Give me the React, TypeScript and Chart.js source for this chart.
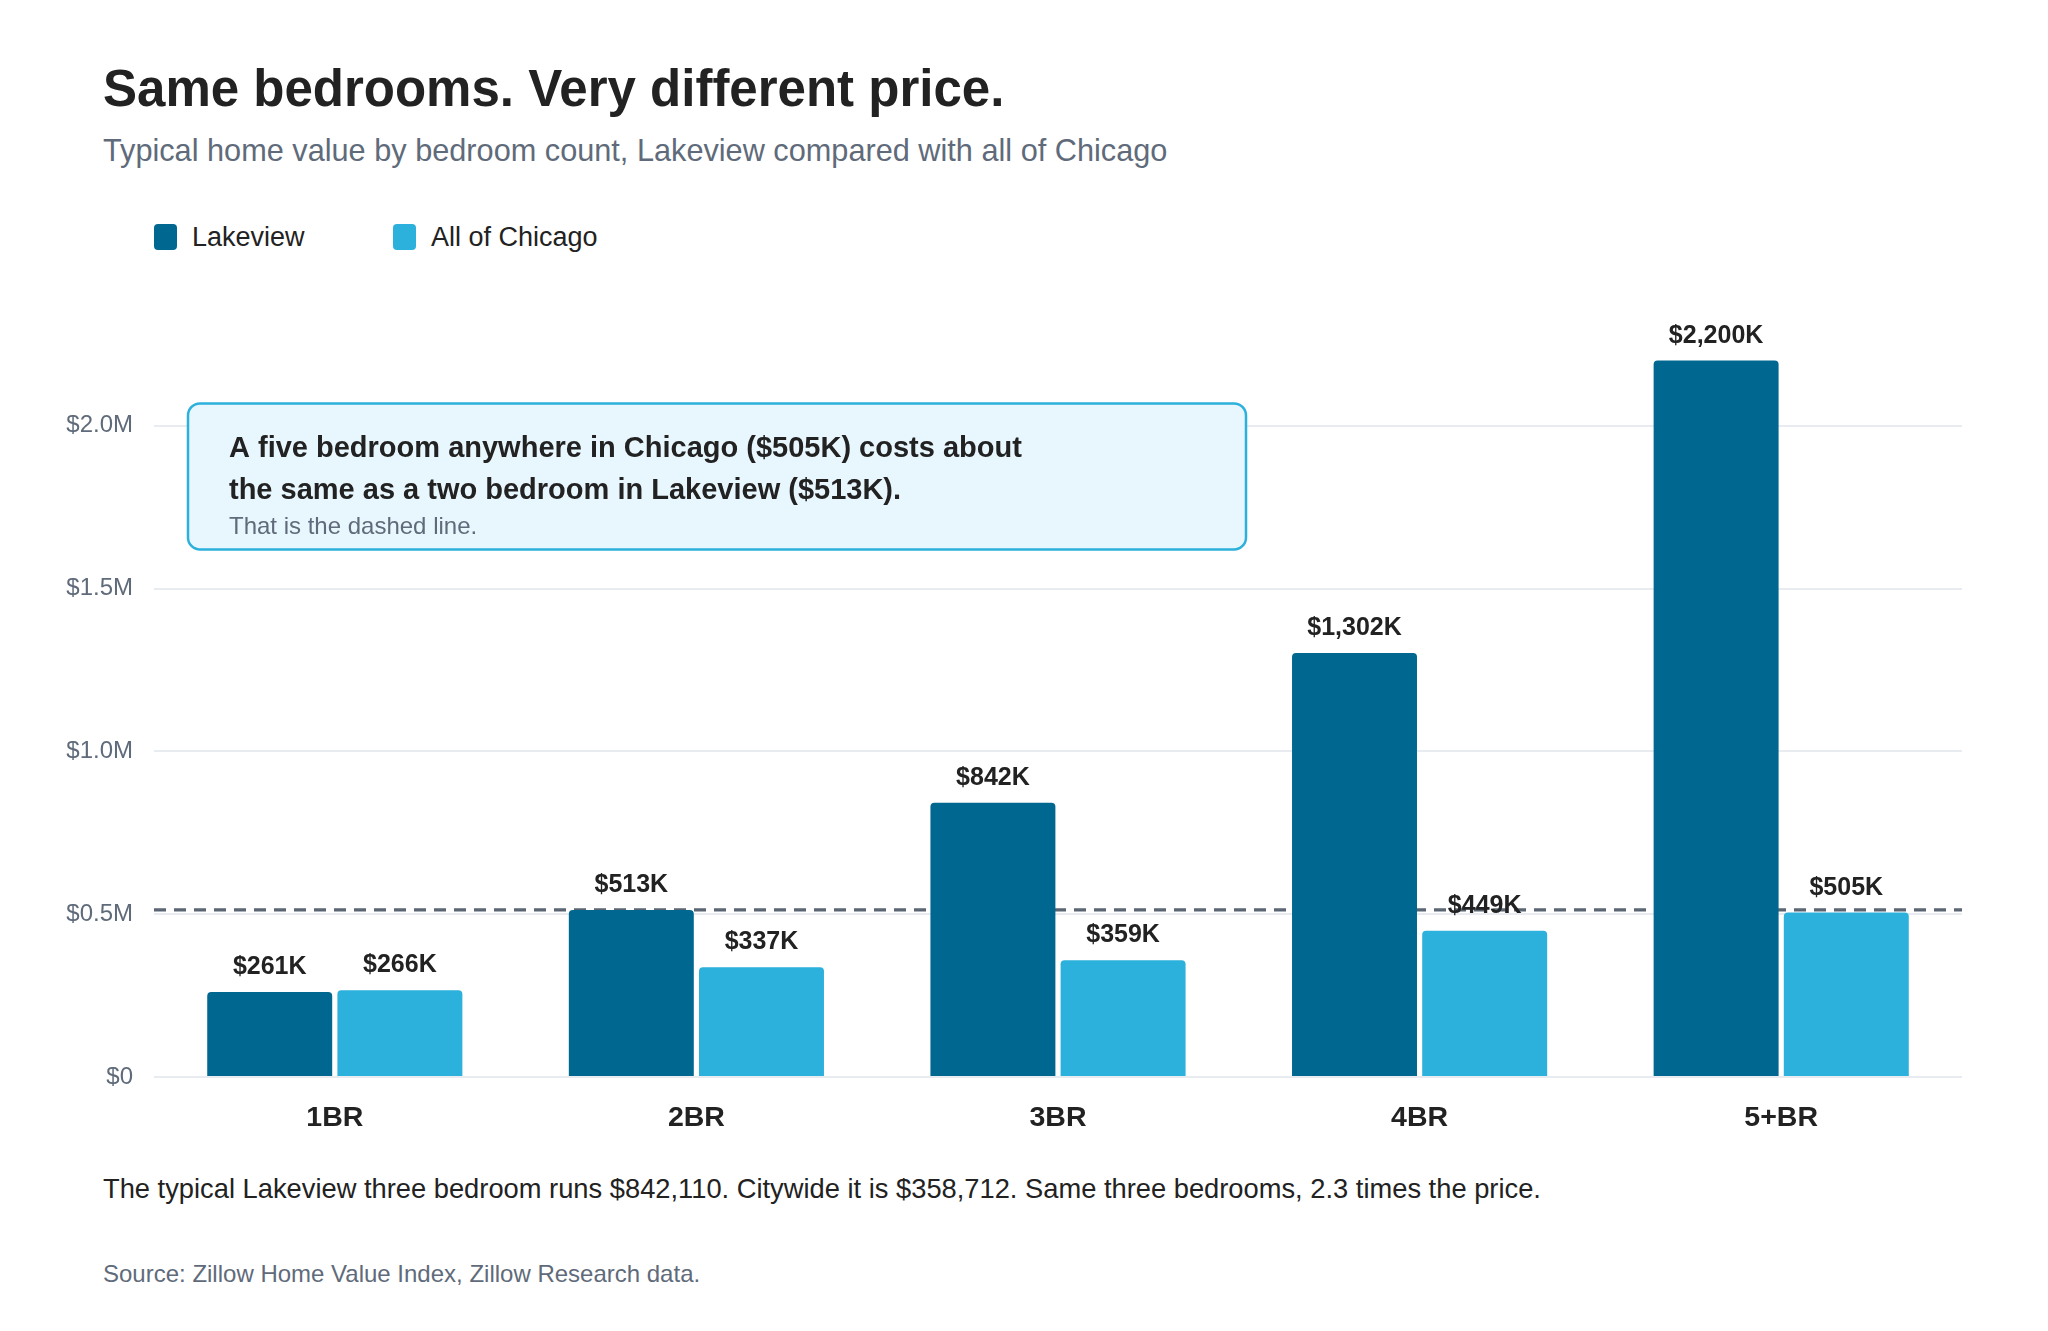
import { useEffect, useRef } from "react";
import { Chart, registerables } from "chart.js";

Chart.register(...registerables);

const bedrooms = ["1BR", "2BR", "3BR", "4BR", "5+BR"];
const lakeview = [261000, 513000, 842110, 1302000, 2200000];
const chicago = [266000, 337000, 358712, 449000, 505000];
const seriesNames = ["Lakeview", "All of Chicago"];
const seriesColors = ["#006890", "#2cb0dc"];
const yTicks = [0, 500000, 1000000, 1500000, 2000000];
const yMax = 2400000;

const calloutLines = [
  "A five bedroom anywhere in Chicago ($505K) costs about",
  "the same as a two bedroom in Lakeview ($513K).",
];
const calloutNote = "That is the dashed line.";

const FONT = '"Liberation Sans", Arial, Helvetica, sans-serif';
const INK = "#222222";
const GREY = "#5f6b7a";

const fmtK = (v: number) => `$${Math.round(v / 1000).toLocaleString("en-US")}K`;
const fmtM = (v: number) => (v === 0 ? "$0" : `$${(v / 1e6).toFixed(1)}M`);

// dashed reference line at the Lakeview 2BR value, drawn behind the bars
const dashedLine = {
  id: "dashedLine",
  beforeDatasetsDraw(chart: any) {
    const { ctx, chartArea, scales } = chart;
    const y = scales.y.getPixelForValue(lakeview[1]);
    ctx.save();
    ctx.strokeStyle = "#5b6573";
    ctx.lineWidth = 3.2;
    ctx.setLineDash([12, 8]);
    ctx.beginPath();
    ctx.moveTo(chartArea.left, y);
    ctx.lineTo(chartArea.right, y);
    ctx.stroke();
    ctx.restore();
  },
};

const valueLabels = {
  id: "valueLabels",
  afterDatasetsDraw(chart: any) {
    const { ctx } = chart;
    ctx.save();
    ctx.font = `bold 25px ${FONT}`;
    ctx.fillStyle = INK;
    ctx.textAlign = "center";
    ctx.textBaseline = "alphabetic";
    chart.data.datasets.forEach((ds: any, i: number) => {
      chart.getDatasetMeta(i).data.forEach((bar: any, j: number) => {
        ctx.fillText(fmtK(ds.data[j]), bar.x, bar.y - 18);
      });
    });
    ctx.restore();
  },
};

const callout = {
  id: "callout",
  afterDraw(chart: any) {
    const { ctx, chartArea } = chart;
    const x = chartArea.left + 34;
    const y = chartArea.top + 108;
    const w = 1058;
    const h = 146;
    ctx.save();
    ctx.beginPath();
    ctx.roundRect(x, y, w, h, 12);
    ctx.fillStyle = "#e8f6fd";
    ctx.fill();
    ctx.lineWidth = 2.5;
    ctx.strokeStyle = "#2cb0dc";
    ctx.stroke();
    ctx.textAlign = "left";
    ctx.textBaseline = "alphabetic";
    ctx.fillStyle = INK;
    ctx.font = `bold 29px ${FONT}`;
    ctx.fillText(calloutLines[0], x + 41, y + 54);
    ctx.fillText(calloutLines[1], x + 41, y + 96);
    ctx.font = `24px ${FONT}`;
    ctx.fillStyle = GREY;
    ctx.fillText(calloutNote, x + 41, y + 131);
    ctx.restore();
  },
};

function BedroomChart() {
  const canvasRef = useRef<HTMLCanvasElement>(null);
  const chartInstance = useRef<Chart | null>(null);

  useEffect(() => {
    if (!canvasRef.current) return;
    if (chartInstance.current) chartInstance.current.destroy();

    chartInstance.current = new Chart(canvasRef.current, {
      type: "bar",
      data: {
        labels: bedrooms,
        datasets: [
          {
            label: seriesNames[0],
            data: lakeview,
            backgroundColor: seriesColors[0],
            borderRadius: 4,
            categoryPercentage: 0.72,
            barPercentage: 0.96,
          },
          {
            label: seriesNames[1],
            data: chicago,
            backgroundColor: seriesColors[1],
            borderRadius: 4,
            categoryPercentage: 0.72,
            barPercentage: 0.96,
          },
        ],
      },
      options: {
        animation: false,
        responsive: false,
        maintainAspectRatio: false,
        layout: { padding: { top: 24, right: 86, left: 0, bottom: 0 } },
        plugins: {
          legend: { display: false },
          tooltip: { enabled: false },
        },
        scales: {
          x: {
            grid: { display: false },
            border: { display: false },
            ticks: {
              color: INK,
              padding: 16,
              font: { family: FONT, size: 28.5, weight: "bold" },
            },
            afterFit: (axis: any) => {
              axis.height = 83;
            },
          },
          y: {
            min: 0,
            max: yMax,
            border: { display: false },
            grid: { color: "#e8ecf0", lineWidth: 2, drawTicks: false },
            ticks: {
              stepSize: 500000,
              padding: 21,
              color: GREY,
              font: { family: FONT, size: 24 },
              callback: (v: any) => fmtM(Number(v)),
            },
            afterBuildTicks: (axis: any) => {
              axis.ticks = yTicks.map((value) => ({ value }));
            },
            afterFit: (axis: any) => {
              axis.width = 154;
            },
          },
        },
      },
      plugins: [dashedLine, valueLabels, callout],
    });

    return () => {
      if (chartInstance.current) {
        chartInstance.current.destroy();
        chartInstance.current = null;
      }
    };
  }, []);

  return (
    <canvas
      ref={canvasRef}
      width={2048}
      height={900}
      style={{ position: "absolute", left: 0, top: 260, width: 2048, height: 900 }}
    />
  );
}

const abs = (left: number, top: number, size: number, extra: object = {}) => ({
  position: "absolute" as const,
  left,
  top,
  fontSize: size,
  lineHeight: 1,
  whiteSpace: "nowrap" as const,
  fontFamily: FONT,
  ...extra,
});

export default function App() {
  const legendX = [154, 393];
  return (
    <div
      style={{
        position: "absolute",
        left: 0,
        top: 0,
        width: 2048,
        height: 1331,
        background: "#ffffff",
        overflow: "hidden",
      }}
    >
      <div style={abs(103, 62.5, 51, { fontWeight: "bold", color: INK })}>
        Same bedrooms. Very different price.
      </div>
      <div style={abs(103, 135.5, 30.7, { color: GREY })}>
        Typical home value by bedroom count, Lakeview compared with all of Chicago
      </div>
      {seriesNames.map((name, i) => (
        <div key={name}>
          <div
            style={{
              position: "absolute",
              left: legendX[i],
              top: 224,
              width: 23,
              height: 26,
              borderRadius: 4,
              background: seriesColors[i],
            }}
          />
          <div style={abs(legendX[i] + 38, 224, 27, { color: INK })}>{name}</div>
        </div>
      ))}
      <BedroomChart />
      <div style={abs(103, 1175, 27.3, { color: INK })}>
        The typical Lakeview three bedroom runs $842,110. Citywide it is $358,712. Same three
        bedrooms, 2.3 times the price.
      </div>
      <div style={abs(103, 1262, 24, { color: GREY })}>
        Source: Zillow Home Value Index, Zillow Research data.
      </div>
    </div>
  );
}
